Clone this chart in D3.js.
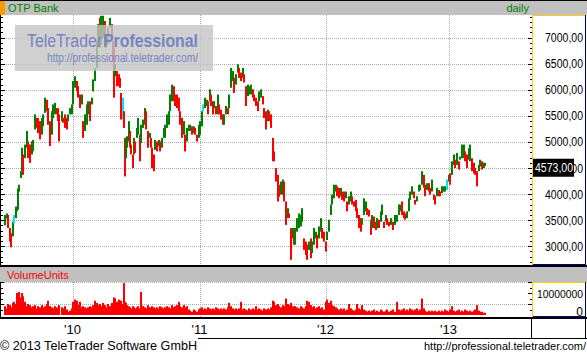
<!DOCTYPE html>
<html><head><meta charset="utf-8">
<script src="https://cdn.jsdelivr.net/npm/d3@7"></script>
<style>
html,body{margin:0;padding:0;background:#fff;overflow:hidden}
svg{display:block}
text{font-family:"Liberation Sans",Arial,sans-serif}
</style>
</head><body>
<svg id="c" width="587" height="355"></svg>
<script>
// ---- DATA (trading session index, high, low, volume in millions) ----
const title = "OTP Bank";
const period = "daily";
const volumeTitle = "VolumeUnits";
const session = [10,14,16,20,22,26,28,32,34,36,38,42,44,46,50,54,56,60,64,66,70,74,76,80,84,86,90,94,96,100,104,106,110,114,116,118,124,126,130,134,136,140,144,146,150,154,156,160,164,166,170,174,176,180,184,186,190,194,196,
200,202,206,210,212,216,220,224,226,228,230,234,238,240,242,246,248,250,252,254,258,260,262,266,268,270,274,276,280,282,286,290,292,296,300,302,304,308,310,314,318,320,324,328,330,334,338,340,344,348,350,354,358,360,364,368,370,374,378,380,384,388,390,394,
398,400,404,406,410,414,416,420,422,426,428,432,436,438,442,446,448,452,456,458,462,466,468,472,476,478,482,486,488,492,496,498,502,506,508,512,516,518,522,526,528,532,536,538,542,546,548,552,556,558,562,566,568,572,576,578,582,586,588,
590,594,598,602,604,608,612,614,618,622,624,628,632,634,638,642,644,648,652,654,658,662,664,668,672,674,678,682,684,688,692,694,698,702,704,708,712,714,718,722,724,728,732,734,738,742,744,748,752,754,758,762,764,768,772,774,778,782,786,
790,794,798,800,804,808,810,814,818,820,824,828,830,834,838,840,844,848,850,854,858,860,864,868,870,874,878,880,884,888,890,894,898,900,904,908,910,914,918,920,924,928,930,934,938,940,944,948,950,954,958,960,964,968,970];
const high = [3600,3630,3600,3350,3250,3470,3600,3760,3760,4110,4180,4440,4890,4760,4950,5210,5010,4950,5010,5040,5530,5460,5460,5400,5460,5530,5850,5810,5650,5400,5590,5720,5750,5650,5650,5530,5590,5460,5530,5460,5530,5650,5720,6170,6260,6170,6070,5910,5910,5400,5530,5720,5780,5780,5850,6200,6420,6940,7260,
7380,7420,7420,7320,7060,7190,7380,7260,6940,6810,6490,6360,6300,6230,5940,5850,5590,5080,5080,5110,5400,5210,4950,4760,5080,5010,5270,5460,5140,5330,5430,5650,5590,5210,5170,5080,4890,4760,5040,5010,5040,5010,5080,5270,5330,5530,5590,5910,6100,6070,5910,5910,5850,5590,5460,5400,5140,5270,5330,5330,5300,5300,5270,5140,
5330,5400,5590,5720,5850,5810,5780,6010,5910,5780,5780,5690,5910,5720,5620,5530,5530,5690,5650,5910,6420,6360,6230,6300,6490,6420,6330,6420,6300,6070,6100,6070,6100,6010,5910,5850,5780,5970,6010,5880,5650,5590,5620,5590,5530,5080,4820,4500,4370,4180,4240,4280,4240,3860,3730,3630,3350,3350,3280,
3350,3540,3630,3600,3730,3150,3090,3030,3090,3150,3090,3350,3280,3220,3380,3540,3350,3280,3090,3280,3510,3800,3990,4180,4180,4150,4120,4120,4050,4050,4050,3860,3960,4050,3960,3860,3890,3730,3600,3540,3540,3920,3860,3730,3700,3510,3600,3570,3470,3540,3510,3670,3800,3470,3600,3540,3470,3540,3470,
3600,3600,3800,3800,3860,3670,3630,3670,3920,4050,4150,4050,3890,3960,4180,4180,4440,4370,4180,4210,4210,4120,4280,3990,3960,4120,4080,4050,4150,4150,4150,4280,4370,4400,4630,4760,4660,4790,4630,4720,4950,4950,4820,4760,4880,4950,4690,4600,4500,4440,4560,4660,4630,4600,4600];
const low = [3400,3530,3350,3090,2980,3190,3440,3540,3670,3700,4050,4310,4440,4370,4690,4890,4690,4600,4760,4820,5240,5270,5170,5050,5140,5300,5560,5590,5330,4920,5140,5460,5530,5530,5400,5010,5400,5370,5270,5240,5400,5530,5530,5720,6040,5970,5850,5650,5720,5080,5210,5330,5530,5400,5720,5970,6170,6420,7000,
6810,6870,7000,6940,6810,6870,7190,7000,6550,5850,6260,6070,6070,6040,5430,5430,5270,4340,4690,4890,5010,4890,4760,4500,4760,4790,5080,5140,4630,4980,5270,5330,5240,4890,5080,4890,4500,4440,4850,4820,4920,4820,4890,5080,5080,5270,5330,5590,5780,5780,5690,5650,5590,5330,5080,5140,4820,5010,5210,5210,5140,5170,5140,5010,
5080,5140,5300,5590,5650,5690,5530,5780,5690,5530,5650,5530,5530,5530,5430,5330,5330,5530,5530,5650,6040,6170,5940,6100,6330,6230,6170,6230,6140,5690,5880,5910,5910,5850,5780,5690,5590,5780,5850,5720,5460,5240,5400,5400,5270,4630,4630,4240,3860,3950,3990,3990,3860,3410,3540,3540,2740,3150,3030,
3030,3280,3350,3380,3470,2930,2830,2740,2930,2770,2870,3030,3150,2960,3150,3280,3150,3090,2900,3120,3280,3600,3800,3920,4050,3960,3920,3960,3890,3860,3920,3670,3800,3860,3800,3760,3670,3540,3350,3280,3410,3600,3670,3600,3570,3220,3350,3350,3310,3350,3350,3470,3600,3350,3470,3410,3380,3410,3310,
3410,3470,3600,3670,3600,3540,3510,3540,3670,3890,3990,3920,3800,3860,4050,4080,4180,4120,3960,4080,4050,3990,4050,3890,3800,3960,3960,3960,4020,4050,4050,4080,4240,4180,4370,4560,4500,4560,4470,4660,4690,4690,4630,4500,4660,4630,4440,4400,4370,4150,4440,4530,4470,4500,4540];
const volume = [4,3,5,4.5,3.5,5.5,6,5,10,7,10.5,8,10,8.5,6,4,5,4.5,3.5,4,4.5,3,4,3.5,4.5,3.5,4,5,6.5,4,3.5,3,4,3.5,3,4.5,3.5,3,4,2.5,1.5,2,3,6,7,6.5,4.5,6,3.5,4,3.5,3,3.5,4,3.5,4.5,6.5,5.5,4.5,
5,4,5.5,4.5,3.5,5,4,5.5,4.5,8,7.5,6,7,5.5,6.5,5,14.5,6,5.5,4.5,4,3.5,3,4,3.5,3,3.5,4,3,10.5,4,3.5,3,4.5,3.5,3,4,3.5,3,3.5,3,4,3.5,3,3.5,4,3.5,3,4.5,3.5,4,4.5,6,4,3.5,4.5,3.5,4,2.5,2,1.5,2.5,2,1.5,
2.5,3,3.5,2.5,3,2.5,3.5,3,2.5,3,2.5,3.5,3,2.5,3,2.5,3,2.5,3.5,5.5,4,3,2.5,3,2.5,3,6,2.5,3,2.5,2,3,2.5,3,2.5,4,2.5,3,2.5,2,3,2.5,3,2.5,3.5,6.5,6,4.5,5,4,3.5,4.5,4,7.5,5,4.5,5.5,4,3.5,
4,3.5,3,4,3.5,3,4,6.5,6,4.5,3.5,4,3,3.5,4,3,3.5,2.5,6,7,5.5,6.5,4.5,4,3.5,3,2.5,3,2.5,3,2,2.5,5,3,2.5,2,2.5,5,3,2.5,4.5,2.5,2,1.5,2,1.5,2,2.5,1.5,2,1.5,2.5,2,1.5,2,2.5,1.5,2,2.5,
1.5,6,2.5,2,2.5,3,2,2.5,2,3,2.5,2,2.5,3,2,2.5,7.5,3,2,1.5,2,1.5,2,1.5,2,1.5,2,1.5,2,1.5,2.5,2,1.5,2.5,4,2,1.5,2,2.5,1.5,2,1.5,2.5,2,1.5,2,1.5,2,2.5,4.5,2,1.5,1.5,1,1];
const cyanSessions = [28, 246, 406, 894];
const lastClose = 4573;
const priceTicks = [3000,3500,4000,4500,5000,5500,6000,6500,7000];
const volumeTicks = [0, 10000000];
const yearLabels = ["'10","'11","'12","'13"];
const yearSessions = [145, 399, 651, 897];
const copyright = "\u00a9 2013 TeleTrader Software GmbH";
const siteUrl = "http://professional.teletrader.com/";

// ---- LAYOUT ----
const W = 587, H = 355;
const plotL = 0, plotR = 532, axR = 585;
const mainT = 15, mainB = 265, volT = 282, volB = 315, volPanelB = 317;
const svg = d3.select("#c");
const x = d3.scaleLinear().domain([0, 1064]).range([plotL, plotR]);
const y = d3.scaleLinear().domain([2641, 7435]).range([mainB, mainT]);
const yv = d3.scaleLinear().domain([0, 15000000]).range([volB, volT]);
const fmt = v => d3.format(".2f")(v).replace(".", ",");
const GRID = "#a8a8a8", YEL = "#ffcc00", NAVY = "#000080";

svg.append("rect").attr("width", W).attr("height", H).attr("fill", "#fff");

// header bars
svg.append("rect").attr("x", 0).attr("y", 0).attr("width", W).attr("height", mainT).attr("fill", "#c0c0c0");
svg.append("line").attr("x1", 0).attr("x2", W).attr("y1", 0.5).attr("y2", 0.5).attr("stroke", "#000");
svg.append("rect").attr("x", 0).attr("y", 1).attr("width", 5).attr("height", 14).attr("fill", "#ff9900");
svg.append("text").attr("x", 8).attr("y", 11.5).attr("font-size", 11).attr("fill", "#008000").text(title);
svg.append("text").attr("x", 529).attr("y", 11.5).attr("font-size", 11).attr("fill", "#008000").attr("text-anchor", "end").text(period);

svg.append("rect").attr("x", 0).attr("y", 267).attr("width", W).attr("height", volT - 267).attr("fill", "#c0c0c0");
svg.append("text").attr("x", 7).attr("y", 279).attr("font-size", 11).attr("fill", "#ff0000").text(volumeTitle);

// gridlines
const g = svg.append("g");
g.selectAll(".hg").data(priceTicks).join("line")
  .attr("x1", plotL).attr("x2", plotR).attr("y1", d => Math.round(y(d)) + 0.5).attr("y2", d => Math.round(y(d)) + 0.5)
  .attr("stroke", GRID).attr("stroke-dasharray", "1,1");
g.selectAll(".vgm").data(yearSessions).join("line")
  .attr("x1", d => Math.round(x(d)) + 0.5).attr("x2", d => Math.round(x(d)) + 0.5).attr("y1", mainT).attr("y2", mainB)
  .attr("stroke", GRID).attr("stroke-dasharray", "1,1");
g.selectAll(".vgv").data(yearSessions).join("line")
  .attr("x1", d => Math.round(x(d)) + 0.5).attr("x2", d => Math.round(x(d)) + 0.5).attr("y1", volT).attr("y2", volPanelB)
  .attr("stroke", GRID).attr("stroke-dasharray", "1,1");
g.selectAll(".hv").data([5000000, 15000000]).join("line")
  .attr("x1", plotL).attr("x2", plotR).attr("y1", d => Math.round(yv(d)) + 0.5).attr("y2", d => Math.round(yv(d)) + 0.5)
  .attr("stroke", GRID).attr("stroke-dasharray", "1,1");

// price bars
const mids = high.map((h, i) => (h + low[i]) / 2);
const barColor = i => cyanSessions.includes(session[i]) ? "#00e5ee"
  : (i === 0 || mids[i] >= mids[i - 1]) ? "#008000" : "#ff0000";
svg.append("g").selectAll("rect").data(session).join("rect")
  .attr("x", (d) => x(d) - 1).attr("width", 2)
  .attr("y", (d, i) => y(high[i]))
  .attr("height", (d, i) => Math.max(1, y(low[i]) - y(high[i])))
  .attr("fill", (d, i) => barColor(i));

// volume bars
svg.append("g").selectAll("rect").data(session).join("rect")
  .attr("x", d => x(d) - 1).attr("width", 2)
  .attr("y", (d, i) => yv(volume[i] * 1e6))
  .attr("height", (d, i) => volB - yv(volume[i] * 1e6))
  .attr("fill", "#ff0000");

// watermark
const wm = svg.append("g");
wm.append("rect").attr("x", 15).attr("y", 25).attr("width", 198).attr("height", 46).attr("fill", "#c4c4c4").attr("opacity", 0.8);
const t1 = wm.append("text").attr("y", 47).attr("font-size", 18).attr("fill", "#7884c0");
t1.append("tspan").attr("x", 27).attr("textLength", 75).attr("lengthAdjust", "spacingAndGlyphs").text("TeleTrader");
t1.append("tspan").attr("x", 103).attr("font-weight", "bold").attr("textLength", 95).attr("lengthAdjust", "spacingAndGlyphs").text("Professional");
wm.append("text").attr("x", 47).attr("y", 62).attr("font-size", 12.5).attr("fill", "#7884c0")
  .attr("textLength", 151).attr("lengthAdjust", "spacingAndGlyphs").text(siteUrl);

// left-edge ticks (main)
const minorP = d3.range(2700, 7500, 100);
svg.append("g").selectAll("line").data(minorP).join("line")
  .attr("x1", 0).attr("x2", d => d % 500 === 0 ? 5 : 3)
  .attr("y1", d => Math.round(y(d)) + 0.5).attr("y2", d => Math.round(y(d)) + 0.5).attr("stroke", "#000");
// right axis ticks (main)
svg.append("g").selectAll("line").data(minorP).join("line")
  .attr("x1", d => d % 500 === 0 ? plotR - 4 : plotR - 2).attr("x2", plotR)
  .attr("y1", d => Math.round(y(d)) + 0.5).attr("y2", d => Math.round(y(d)) + 0.5).attr("stroke", "#000");
// volume ticks
const minorV = d3.range(2500000, 15000001, 2500000);
svg.append("g").selectAll("line").data(minorV).join("line")
  .attr("x1", 0).attr("x2", d => d % 5000000 === 0 ? 4 : 3)
  .attr("y1", d => Math.round(yv(d)) + 0.5).attr("y2", d => Math.round(yv(d)) + 0.5).attr("stroke", "#000");
svg.append("g").selectAll("line").data(minorV).join("line")
  .attr("x1", d => d % 5000000 === 0 ? plotR - 4 : plotR - 2).attr("x2", plotR)
  .attr("y1", d => Math.round(yv(d)) + 0.5).attr("y2", d => Math.round(yv(d)) + 0.5).attr("stroke", "#000");

// left border
svg.append("line").attr("x1", 0.5).attr("x2", 0.5).attr("y1", mainT).attr("y2", mainB).attr("stroke", "#000");
svg.append("line").attr("x1", 0.5).attr("x2", 0.5).attr("y1", volT).attr("y2", volPanelB).attr("stroke", "#000");

// axis panels borders
function axisPanel(top, bottom) {
  svg.append("line").attr("x1", plotR + 0.5).attr("x2", plotR + 0.5).attr("y1", top).attr("y2", bottom).attr("stroke", YEL);
  svg.append("line").attr("x1", plotR).attr("x2", axR).attr("y1", top + 0.5).attr("y2", top + 0.5).attr("stroke", YEL);
  svg.append("line").attr("x1", axR + 0.5).attr("x2", axR + 0.5).attr("y1", top).attr("y2", bottom).attr("stroke", NAVY);
  svg.append("line").attr("x1", plotR + 1).attr("x2", axR + 1).attr("y1", bottom - 0.5).attr("y2", bottom - 0.5).attr("stroke", NAVY);
}
axisPanel(mainT, mainB);
axisPanel(volT, volPanelB);

// price labels
svg.append("g").selectAll("text").data(priceTicks).join("text")
  .attr("x", 583).attr("y", d => y(d) + 4.5).attr("text-anchor", "end").attr("font-size", 12)
  .attr("textLength", 38).attr("lengthAdjust", "spacingAndGlyphs").attr("fill", "#000").text(fmt);

// last value label
svg.append("rect").attr("x", 533).attr("y", y(lastClose) - 5.5).attr("width", 41).attr("height", 18).attr("fill", "#000");
svg.append("text").attr("x", 535).attr("y", y(lastClose) + 8).attr("font-size", 12).attr("fill", "#fff")
  .attr("textLength", 38).attr("lengthAdjust", "spacingAndGlyphs").text(fmt(lastClose));

// volume labels
svg.append("text").attr("x", 583).attr("y", yv(volumeTicks[1]) + 4.5).attr("text-anchor", "end").attr("font-size", 11)
  .attr("textLength", 46).attr("lengthAdjust", "spacingAndGlyphs").text(String(volumeTicks[1]));
svg.append("text").attr("x", 583).attr("y", yv(volumeTicks[0]) + 0.5).attr("text-anchor", "end").attr("font-size", 12).text(String(volumeTicks[0]));

// black separators
svg.append("rect").attr("x", 0).attr("y", mainB).attr("width", W).attr("height", 2).attr("fill", "#000");
svg.append("rect").attr("x", 0).attr("y", volPanelB).attr("width", W).attr("height", 2).attr("fill", "#000");

// x axis
svg.append("g").selectAll("text").data(yearSessions).join("text")
  .attr("x", d => x(d)).attr("y", 334).attr("text-anchor", "middle").attr("font-size", 13)
  .text((d, i) => yearLabels[i]);
svg.append("line").attr("x1", plotR - 0.5).attr("x2", plotR - 0.5).attr("y1", 319).attr("y2", 339).attr("stroke", "#000");
svg.append("line").attr("x1", W - 1.5).attr("x2", W - 1.5).attr("y1", 319).attr("y2", 339).attr("stroke", "#000");
svg.append("line").attr("x1", 198).attr("x2", W).attr("y1", 338.5).attr("y2", 338.5).attr("stroke", "#000");

// footer
svg.append("text").attr("x", 0).attr("y", 350).attr("font-size", 13).attr("textLength", 197).attr("lengthAdjust", "spacingAndGlyphs").text(copyright);
svg.append("text").attr("x", 586).attr("y", 350).attr("font-size", 11.5).attr("text-anchor", "end")
  .attr("textLength", 162).attr("lengthAdjust", "spacingAndGlyphs").text(siteUrl);
</script>
</body></html>
